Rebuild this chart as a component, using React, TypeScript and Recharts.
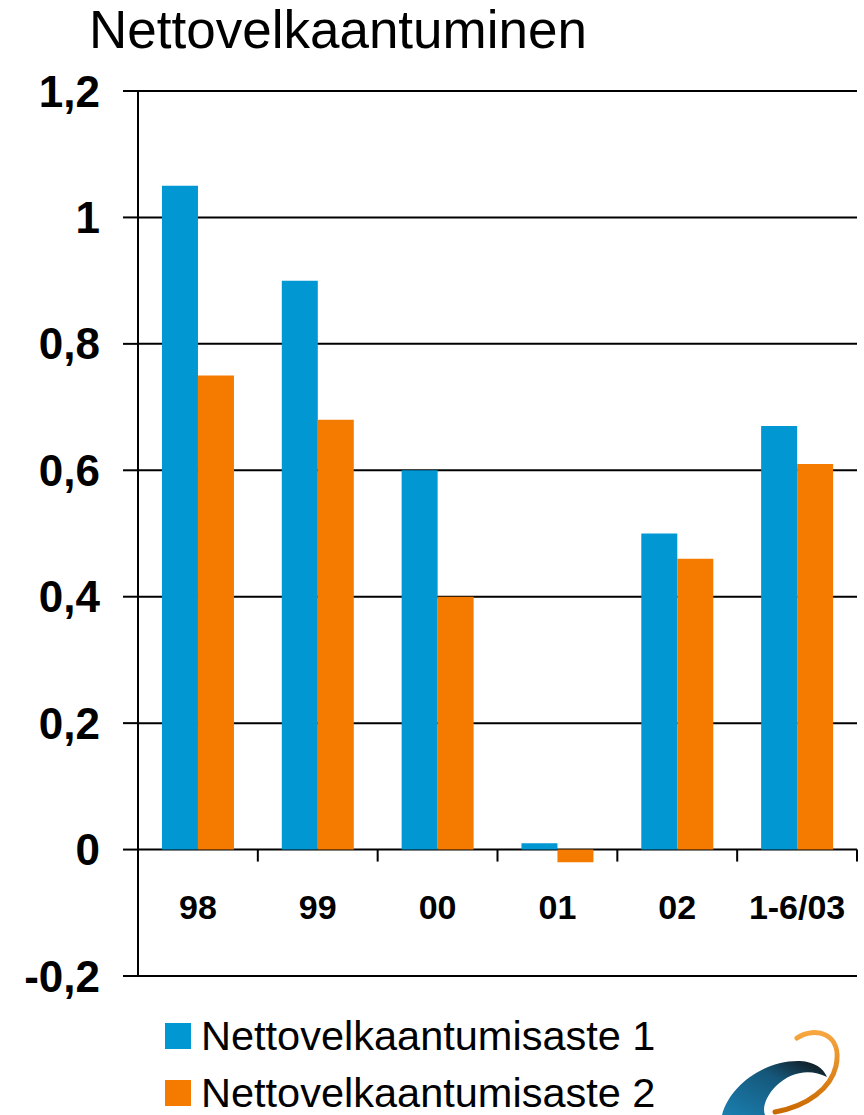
import React from 'react';
import { BarChart, Bar, XAxis, YAxis, CartesianGrid, Legend } from 'recharts';

const categories = ['98', '99', '00', '01', '02', '1-6/03'];
const rate1 = [1.05, 0.9, 0.6, 0.01, 0.5, 0.67];
const rate2 = [0.75, 0.68, 0.4, -0.02, 0.46, 0.61];
const yTicks = [-0.2, 0, 0.2, 0.4, 0.6, 0.8, 1, 1.2];
const seriesNames = ['Nettovelkaantumisaste 1', 'Nettovelkaantumisaste 2'];

const BLUE = '#0097d3';
const ORANGE = '#f57b00';
const FONT = '"Liberation Sans", Arial, sans-serif';

const W = 864;
const H = 1115;
const PLOT_LEFT = 138;
const PLOT_TOP = 91;
const PLOT_RIGHT = 857;
const PLOT_BOTTOM = 976;
const PLOT_W = PLOT_RIGHT - PLOT_LEFT;
const PLOT_H = PLOT_BOTTOM - PLOT_TOP;
const Y_MIN = -0.2;
const Y_MAX = 1.2;

const data = categories.map((cat, i) => ({ cat, r1: rate1[i], r2: rate2[i] }));

const fmt = (v: number) => String(v).replace('.', ',');

// category labels sit between the zero line and the bottom line,
// boundary tick marks hang off the zero line
const XTick = (props: any) => {
  const { x, y, payload } = props;
  const band = PLOT_W / categories.length;
  const y0 = y - (PLOT_H * (0 - Y_MIN)) / (Y_MAX - Y_MIN);
  return (
    <g>
      <line x1={x + band / 2} x2={x + band / 2} y1={y0} y2={y0 + 12} stroke="#000" strokeWidth={2} />
      <text x={x} y={y0 + 69} textAnchor="middle" fontFamily={FONT} fontWeight="bold" fontSize={34} fill="#000">
        {payload.value}
      </text>
    </g>
  );
};

const LegendBox = (props: any) => {
  const { payload } = props;
  return (
    <div style={{ fontFamily: FONT }}>
      {(payload || []).map((e: any) => (
        <div key={e.value} style={{ display: 'flex', alignItems: 'center', height: 57 }}>
          <div style={{ width: 26, height: 26, background: e.color, marginRight: 10 }} />
          <span style={{ fontSize: 41.5, lineHeight: 1, color: '#000', whiteSpace: 'nowrap' }}>{e.value}</span>
        </div>
      ))}
    </div>
  );
};

const Logo = () => (
  <svg width={W} height={H} style={{ position: 'absolute', left: 0, top: 0, pointerEvents: 'none' }}>
    <defs>
      <linearGradient id="lb" x1="0" y1="1" x2="1" y2="0">
        <stop offset="0" stopColor="#1a7fb0" />
        <stop offset="0.6" stopColor="#15577a" />
        <stop offset="1" stopColor="#111" />
      </linearGradient>
      <linearGradient id="lo" x1="0" y1="0" x2="0" y2="1">
        <stop offset="0" stopColor="#f7a640" />
        <stop offset="1" stopColor="#c96a00" />
      </linearGradient>
    </defs>
    <path
      d="M 722 1115 C 730 1085, 765 1060, 800 1061 C 815 1062, 823 1068, 827 1077 C 810 1068, 790 1072, 776 1086 C 766 1096, 762 1108, 765 1115 Z"
      fill="url(#lb)"
    />
    <path
      d="M 797 1038 C 815 1026, 843 1033, 836 1066 C 831 1088, 808 1106, 775 1112"
      fill="none"
      stroke="url(#lo)"
      strokeWidth={5}
      strokeLinecap="round"
    />
  </svg>
);

export default function App() {
  return (
    <div style={{ position: 'absolute', left: 0, top: 0, width: W, height: H, background: '#fff' }}>
      <div
        style={{
          position: 'absolute',
          left: 89,
          top: 0,
          fontFamily: FONT,
          fontSize: 53,
          lineHeight: '60px',
          color: '#000',
          whiteSpace: 'nowrap',
        }}
      >
        Nettovelkaantuminen
      </div>
      <BarChart
        width={W}
        height={H}
        data={data}
        margin={{ top: PLOT_TOP, right: W - PLOT_RIGHT, bottom: 0, left: 0 }}
        barCategoryGap="20%"
        barGap={0}
      >
        <CartesianGrid vertical={false} stroke="#000" strokeWidth={2} />
        <XAxis
          dataKey="cat"
          height={H - PLOT_BOTTOM}
          axisLine={false}
          tickLine={false}
          tickSize={0}
          tickMargin={0}
          interval={0}
          tick={<XTick />}
        />
        <YAxis
          width={PLOT_LEFT}
          domain={[Y_MIN, Y_MAX]}
          ticks={yTicks}
          interval={0}
          tickFormatter={fmt}
          axisLine={{ stroke: '#000', strokeWidth: 2 }}
          tickLine={{ stroke: '#000', strokeWidth: 2 }}
          tickSize={15}
          tickMargin={23}
          tick={{ fill: '#000', fontSize: 44, fontWeight: 'bold', fontFamily: FONT }}
        />
        <Bar dataKey="r1" name={seriesNames[0]} fill={BLUE} isAnimationActive={false} />
        <Bar dataKey="r2" name={seriesNames[1]} fill={ORANGE} isAnimationActive={false} />
        <Legend
          layout="vertical"
          align="center"
          verticalAlign="middle"
          content={<LegendBox />}
          wrapperStyle={{ left: 165, top: 1007, width: 650 }}
        />
      </BarChart>
      <Logo />
    </div>
  );
}
